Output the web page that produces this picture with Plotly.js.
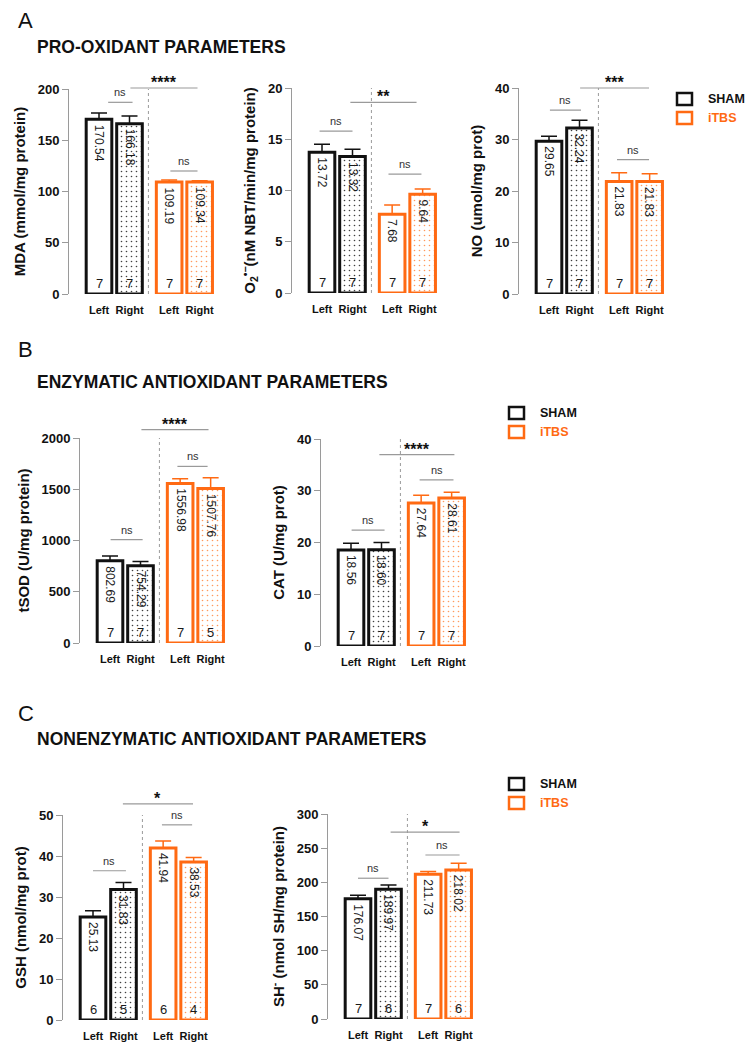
<!DOCTYPE html>
<html>
<head>
<meta charset="utf-8">
<script src="https://cdn.plot.ly/plotly-3.0.1.min.js"></script>
<style>html,body{margin:0;padding:0;background:#fff}#chart{width:752px;height:1049px}</style>
</head>
<body>
<div id="chart"></div>
<script>
// ---------------- DATA ----------------
const SIDES = ['Left', 'Right'];
const GROUPS = ['SHAM', 'iTBS'];

const MDA_SHAM = [170.54, 166.18];
const MDA_SHAM_SEM = [6.1, 7.5];
const MDA_ITBS = [109.19, 109.34];
const MDA_ITBS_SEM = [2.0, 1.2];
const MDA_N = [7, 7, 7, 7];

const O2_SHAM = [13.72, 13.32];
const O2_SHAM_SEM = [0.8, 0.7];
const O2_ITBS = [7.68, 9.64];
const O2_ITBS_SEM = [0.9, 0.5];
const O2_N = [7, 7, 7, 7];

const NO_SHAM = [29.65, 32.24];
const NO_SHAM_SEM = [1.0, 1.5];
const NO_ITBS = [21.83, 21.83];
const NO_ITBS_SEM = [1.7, 1.5];
const NO_N = [7, 7, 7, 7];

const SOD_SHAM = [802.69, 754.29];
const SOD_SHAM_SEM = [45, 40];
const SOD_ITBS = [1556.98, 1507.76];
const SOD_ITBS_SEM = [45, 105];
const SOD_N = [7, 7, 7, 5];

const CAT_SHAM = [18.56, 18.60];
const CAT_SHAM_SEM = [1.3, 1.4];
const CAT_ITBS = [27.64, 28.61];
const CAT_ITBS_SEM = [1.5, 1.1];
const CAT_N = [7, 7, 7, 7];

const GSH_SHAM = [25.13, 31.83];
const GSH_SHAM_SEM = [1.5, 1.7];
const GSH_ITBS = [41.94, 38.53];
const GSH_ITBS_SEM = [1.7, 1.1];
const GSH_N = [6, 5, 6, 4];

const SH_SHAM = [176.07, 189.97];
const SH_SHAM_SEM = [5, 6];
const SH_ITBS = [211.73, 218.02];
const SH_ITBS_SEM = [4, 10];
const SH_N = [7, 6, 7, 6];

const SIG = ['****', '**', '***', '****', '****', '*', '*'];

// ---------------- LAYOUT CONFIG ----------------
const W = 752, H = 1049;
const FONT = 'Liberation Sans, Arial, Helvetica, sans-serif';
const BLACK = '#111111';
const ORANGE = '#ff6a13';
const GRAY = '#9a9a9a';
const U = 30.5, LEFTOFF = 30, DOMW = 147;
const GAP = 1.3;
const SHAM_X = [0, 1];
const ITBS_X = [SHAM_X[0] + GAP + 1, SHAM_X[1] + GAP + 1];
const XR = [-LEFTOFF / U, -LEFTOFF / U + DOMW / U];
const BARW = 0.84;

const panels = [
  {ax: 69, top: 89, bot: 294, ymax: 200, dtick: 50, title: 'MDA (mmol/mg protein)',
   sham: MDA_SHAM, shamSem: MDA_SHAM_SEM, itbs: MDA_ITBS, itbsSem: MDA_ITBS_SEM, n: MDA_N,
   ns1: [0.3, 1.1, 187], star: [1.03, 3.23, 201], ns2: [2.34, 3.23, 120]},
  {ax: 292, top: 88, bot: 293, ymax: 20, dtick: 5, title: 'O<sub>2</sub><sup>•−</sup>(nM NBT/min/mg protein)',
   sham: O2_SHAM, shamSem: O2_SHAM_SEM, itbs: O2_ITBS, itbsSem: O2_ITBS_SEM, n: O2_N,
   ns1: [-0.08, 1.0, 15.8], star: [0.93, 3.1, 18.6], ns2: [2.18, 3.26, 11.6]},
  {ax: 519, top: 88, bot: 294, ymax: 40, dtick: 10, title: 'NO (umol/mg prot)',
   sham: NO_SHAM, shamSem: NO_SHAM_SEM, itbs: NO_ITBS, itbsSem: NO_ITBS_SEM, n: NO_N,
   ns1: [0.03, 1.05, 35.7], star: [1.02, 3.28, 40], ns2: [2.23, 3.28, 26.1]},
  {ax: 80, top: 438, bot: 643, ymax: 2000, dtick: 500, title: 'tSOD (U/mg protein)',
   sham: SOD_SHAM, shamSem: SOD_SHAM_SEM, itbs: SOD_ITBS, itbsSem: SOD_ITBS_SEM, n: SOD_N,
   ns1: [0.02, 1.07, 1008], star: [1.03, 3.23, 2081], ns2: [2.21, 3.2, 1723]},
  {ax: 321, top: 439, bot: 646, ymax: 40, dtick: 10, title: 'CAT (U/mg prot)',
   sham: CAT_SHAM, shamSem: CAT_SHAM_SEM, itbs: CAT_ITBS, itbsSem: CAT_ITBS_SEM, n: CAT_N,
   ns1: [0.02, 1.1, 22.4], star: [0.93, 3.39, 37.0], ns2: [2.25, 3.36, 32.1]},
  {ax: 63, top: 815, bot: 1020, ymax: 50, dtick: 10, title: 'GSH (nmol/mg prot)',
   sham: GSH_SHAM, shamSem: GSH_SHAM_SEM, itbs: GSH_ITBS, itbsSem: GSH_ITBS_SEM, n: GSH_N,
   ns1: [0, 1.08, 36.4], star: [0.98, 3.28, 52.7], ns2: [2.26, 3.25, 47.6]},
  {ax: 328, top: 814, bot: 1019, ymax: 300, dtick: 50, title: 'SH<sup>-</sup> (nmol SH/mg protein)',
   sham: SH_SHAM, shamSem: SH_SHAM_SEM, itbs: SH_ITBS, itbsSem: SH_ITBS_SEM, n: SH_N,
   ns1: [0, 1.0, 206], star: [1.07, 3.33, 273.6], ns2: [2.21, 3.33, 240]}
];

const sections = [
  {letter: 'A', ly: 21, heading: 'PRO-OXIDANT PARAMETERS', hy: 47},
  {letter: 'B', ly: 349, heading: 'ENZYMATIC ANTIOXIDANT PARAMETERS', hy: 382},
  {letter: 'C', ly: 713, heading: 'NONENZYMATIC ANTIOXIDANT PARAMETERS', hy: 739}
];
const legendPos = [{x: 677, y: 99}, {x: 509, y: 413}, {x: 509, y: 784}];

// ---------------- BUILD ----------------
const traces = [];
const layout = {
  width: W, height: H,
  margin: {l: 0, r: 0, t: 0, b: 0},
  paper_bgcolor: '#ffffff', plot_bgcolor: 'rgba(0,0,0,0)',
  showlegend: false, barmode: 'overlay',
  font: {family: FONT, color: BLACK},
  shapes: [], annotations: []
};
const px2x = p => p / W;
const px2y = p => 1 - p / H;

panels.forEach((p, i) => {
  const k = i === 0 ? '' : String(i + 1);
  const xa = 'x' + k, ya = 'y' + k;
  const xd = [px2x(p.ax), px2x(p.ax + DOMW)];
  const yd = [px2y(p.bot), px2y(p.top)];
  layout['xaxis' + k] = {
    domain: xd, range: XR, anchor: ya,
    showline: false, showgrid: false, zeroline: false, ticks: '',
    tickvals: SHAM_X.concat(ITBS_X), ticktext: SIDES.concat(SIDES),
    tickfont: {family: FONT, size: 11, weight: 'bold', color: BLACK},
    ticklabelstandoff: 8, fixedrange: true
  };
  layout['yaxis' + k] = {
    domain: yd, range: [0, p.ymax], anchor: xa,
    showline: true, linecolor: GRAY, linewidth: 1, showgrid: false, zeroline: false,
    ticks: 'outside', ticklen: 6, tickcolor: GRAY, tickwidth: 1, dtick: p.dtick, tick0: 0,
    tickfont: {family: FONT, size: 13, weight: 'bold', color: BLACK},
    title: {text: p.title, standoff: 8, font: {family: FONT, size: 15, weight: 'bold', color: BLACK}},
    fixedrange: true
  };
  const grp = [
    {x: SHAM_X, y: p.sham, e: p.shamSem, c: BLACK, name: GROUPS[0], fg: 'rgba(0,0,0,0.75)', nn: p.n.slice(0, 2)},
    {x: ITBS_X, y: p.itbs, e: p.itbsSem, c: ORANGE, name: GROUPS[1], fg: 'rgba(255,120,40,0.75)', nn: p.n.slice(2, 4)}
  ];
  grp.forEach(g => {
    traces.push({
      type: 'bar', x: g.x, y: g.y, width: BARW, name: g.name, xaxis: xa, yaxis: ya,
      marker: {color: '#ffffff', line: {color: g.c, width: 3},
        pattern: {shape: ['', '.'], fillmode: 'replace', fgcolor: g.fg, bgcolor: '#ffffff', size: 5, solidity: 0.08}},
      error_y: {type: 'data', symmetric: false, array: g.e, arrayminus: [0, 0], color: g.c, thickness: 1.5, width: 8},
      hoverinfo: 'skip'
    });
    g.x.forEach((xv, j) => {
      layout.annotations.push({xref: xa, yref: ya, x: xv, y: g.y[j], text: g.y[j].toFixed(2),
        textangle: 90, yanchor: 'top', xanchor: 'center', yshift: -3, showarrow: false,
        font: {family: FONT, size: 12, color: '#1a1a1a'}});
      layout.annotations.push({xref: xa, yref: ya, x: xv, y: 0, text: String(g.nn[j]),
        yanchor: 'bottom', xanchor: 'center', yshift: 1, showarrow: false,
        font: {family: FONT, size: 13, color: '#1a1a1a'}});
    });
  });
  const fx = v => (v - XR[0]) / (XR[1] - XR[0]);
  const paperX = v => xd[0] + fx(v) * (xd[1] - xd[0]);
  const paperY = v => yd[0] + (v / p.ymax) * (yd[1] - yd[0]);
  // divider
  const mid = (SHAM_X[1] + ITBS_X[0]) / 2 - 0.03;
  layout.shapes.push({type: 'line', xref: xa + ' domain', yref: ya + ' domain', x0: fx(mid), x1: fx(mid), y0: 0, y1: 1,
    line: {color: GRAY, width: 1, dash: 'dot'}});
  // brackets
  [[p.ns1, 'ns'], [p.ns2, 'ns'], [p.star, SIG[i]]].forEach(([b, t]) => {
    layout.shapes.push({type: 'line', xref: 'paper', yref: 'paper',
      x0: paperX(b[0]), x1: paperX(b[1]), y0: paperY(b[2]), y1: paperY(b[2]), line: {color: GRAY, width: 1.2}});
    const isStar = t !== 'ns';
    layout.annotations.push({xref: 'paper', yref: 'paper', x: paperX((b[0] + b[1]) / 2), y: paperY(b[2]), text: t,
      yanchor: 'bottom', xanchor: 'center', yshift: isStar ? -5 : 2, showarrow: false,
      font: isStar ? {family: FONT, size: 16, weight: 'bold', color: BLACK} : {family: FONT, size: 11, color: '#333'}});
  });
});

sections.forEach((s, i) => {
  layout.annotations.push({xref: 'paper', yref: 'paper', x: px2x(16), y: px2y(s.ly), text: s.letter,
    xanchor: 'left', yanchor: 'middle', showarrow: false, font: {family: FONT, size: 22, color: BLACK}});
  layout.annotations.push({xref: 'paper', yref: 'paper', x: px2x(35), y: px2y(s.hy), text: s.heading,
    xanchor: 'left', yanchor: 'middle', showarrow: false, font: {family: FONT, size: 17.5, weight: 'bold', color: BLACK}});
  const L = legendPos[i];
  [[GROUPS[0], BLACK, 0], [GROUPS[1], ORANGE, 19]].forEach(([t, c, dy]) => {
    const cy = L.y + dy;
    layout.shapes.push({type: 'rect', xref: 'paper', yref: 'paper', x0: px2x(L.x), x1: px2x(L.x + 15),
      y0: px2y(cy + 6), y1: px2y(cy - 6), line: {color: c, width: 2.5}, fillcolor: '#ffffff'});
    layout.annotations.push({xref: 'paper', yref: 'paper', x: px2x(L.x + 29), y: px2y(cy), text: t,
      xanchor: 'left', yanchor: 'middle', showarrow: false, font: {family: FONT, size: 12.5, weight: 'bold', color: c}});
  });
});

Plotly.newPlot('chart', traces, layout, {displayModeBar: false, staticPlot: true});
</script>
</body>
</html>
